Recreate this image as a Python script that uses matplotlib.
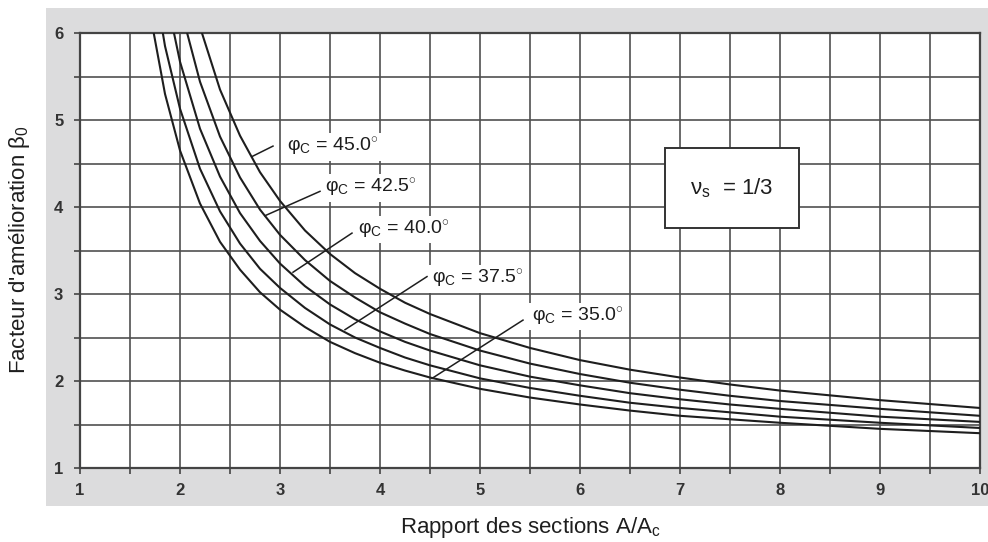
import numpy as np
import matplotlib
matplotlib.use('Agg')
import matplotlib.pyplot as plt
from matplotlib.patches import Rectangle

plt.rcParams['font.family'] = ['Liberation Sans', 'DejaVu Sans']
plt.rcParams['mathtext.fontset'] = 'custom'
plt.rcParams['mathtext.rm'] = 'Liberation Sans'
plt.rcParams['mathtext.it'] = 'Liberation Sans:italic'

# rapport des sections A/Ac
ratio = [1.7, 1.85, 2.0, 2.2, 2.4, 2.6, 2.8, 3.0, 3.25, 3.5, 3.75, 4.0, 4.25, 4.5,
         5.0, 5.5, 6.0, 6.5, 7.0, 7.5, 8.0, 9.0, 10.0]

# facteur d'amelioration beta0 for each friction angle
beta_35 = [6.23, 5.30, 4.65, 4.04, 3.60, 3.28, 3.02, 2.82, 2.62, 2.45, 2.32, 2.21, 2.12, 2.04,
           1.91, 1.81, 1.73, 1.66, 1.60, 1.56, 1.52, 1.45, 1.40]
beta_375 = [6.89, 5.85, 5.13, 4.44, 3.95, 3.58, 3.29, 3.07, 2.84, 2.65, 2.50, 2.38, 2.27, 2.18,
            2.03, 1.92, 1.83, 1.75, 1.69, 1.64, 1.59, 1.52, 1.46]
beta_40 = [7.66, 6.49, 5.67, 4.90, 4.35, 3.93, 3.61, 3.35, 3.09, 2.88, 2.71, 2.57, 2.45, 2.35,
           2.18, 2.05, 1.95, 1.86, 1.79, 1.73, 1.68, 1.59, 1.53]
beta_425 = [8.55, 7.23, 6.31, 5.44, 4.81, 4.34, 3.97, 3.68, 3.39, 3.15, 2.96, 2.79, 2.66, 2.54,
            2.35, 2.20, 2.08, 1.98, 1.90, 1.83, 1.77, 1.68, 1.60]
beta_45 = [9.60, 8.10, 7.06, 6.07, 5.35, 4.82, 4.40, 4.07, 3.73, 3.46, 3.24, 3.06, 2.90, 2.77,
           2.55, 2.38, 2.24, 2.13, 2.04, 1.96, 1.89, 1.78, 1.69]

curves = [beta_35, beta_375, beta_40, beta_425, beta_45]
labels = ['35.0', '37.5', '40.0', '42.5', '45.0']
# leader line: point on curve, end near the label
leader_start = [(4.52, 2.03), (3.65, 2.59), (3.13, 3.25), (2.85, 3.90), (2.72, 4.58)]
leader_end = [(5.43, 2.70), (4.47, 3.20), (3.72, 3.70), (3.40, 4.18), (2.93, 4.70)]
label_pos = [(5.52, 2.74), (4.52, 3.17), (3.78, 3.74), (3.45, 4.22), (3.07, 4.69)]

W, H = 988, 542
fig = plt.figure(figsize=(W / 100, H / 100), dpi=100)
fig.patches.append(Rectangle((46 / W, 1 - 506 / H), 942 / W, 498 / H,
                             transform=fig.transFigure, facecolor='#dcdcdd',
                             edgecolor='none', zorder=-10))

ax = fig.add_axes([80 / W, 1 - 468 / H, 900 / W, 435 / H])
ax.set_zorder(2)
ax.set_facecolor('white')

ink = '#1e1e1e'
for ys in curves:
    ax.plot(ratio, ys, color=ink, lw=1.5, zorder=3)

for lab, p0, p1, pt in zip(labels, leader_start, leader_end, label_pos):
    ax.plot([p0[0], p1[0]], [p0[1], p1[1]], color=ink, lw=1.1, zorder=3)
    ax.text(pt[0], pt[1], 'φ$_\\mathrm{C}$ = ' + lab + r'$^{\circ}$',
            fontsize=14, color=ink, ha='left', va='center', zorder=4,
            bbox=dict(facecolor='white', edgecolor='none', pad=2))

ax.add_patch(Rectangle((6.85, 3.76), 1.34, 0.92, facecolor='white',
                       edgecolor='#333333', lw=1.4, zorder=4))
ax.text(7.52, 4.22, 'ν$_\\mathrm{s}$  = 1/3', fontsize=16, color=ink,
        ha='center', va='center', zorder=5)

ax.set_xlim(1, 10)
ax.set_ylim(1, 6)
ax.set_xticks(range(1, 11))
ax.set_xticks(np.arange(1.5, 10, 1), minor=True)
ax.set_yticks(range(1, 7))
ax.set_yticks(np.arange(1.5, 6, 1), minor=True)
ax.grid(True, which='both', color='#505050', lw=1.2)
ax.set_axisbelow(True)
ax.tick_params(which='both', direction='out', length=4, width=1.2, color='#444444')
ax.tick_params(axis='x', pad=7, labelsize=12, labelcolor='#333333')
ax.tick_params(axis='y', pad=8, labelsize=12, labelcolor='#333333')
for lab in ax.get_xticklabels() + ax.get_yticklabels():
    lab.set_fontweight('bold')
for sp in ax.spines.values():
    sp.set_color('#444444')
    sp.set_linewidth(1.6)

fig.text(530 / W, 1 - 528 / H, 'Rapport des sections A/A$_\\mathrm{c}$',
         fontsize=16, color=ink, ha='center', va='center')
fig.text(20 / W, 1 - 250 / H, "Facteur d'amélioration β$_0$",
         fontsize=16, color=ink, ha='center', va='center', rotation=90)

fig.savefig('out.png', dpi=100)
